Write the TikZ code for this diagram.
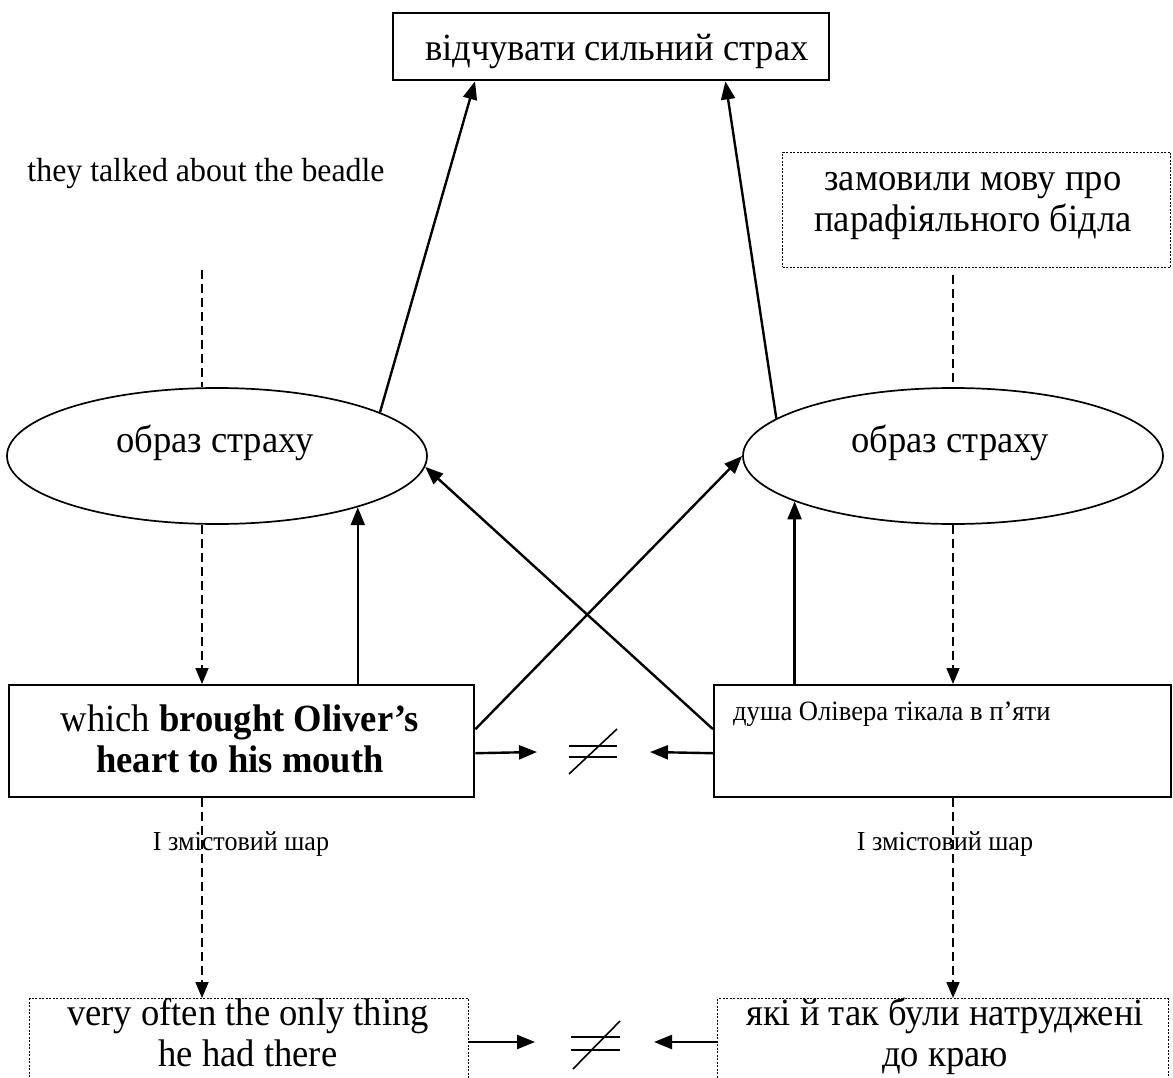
\documentclass[tikz,border=0pt]{standalone}
\usepackage{fontspec}
\setmainfont{Liberation Serif}[FakeStretch=0.95]
\usetikzlibrary{arrows.meta,shapes.geometric}
\newcommand\fbig{\fontsize{38.5}{41}\selectfont}
\newcommand\fmid{\fontsize{33.5}{38}\selectfont}
\newcommand\fsmall{\fontsize{28}{32}\selectfont}
\newcommand\flab{\fontsize{27.5}{32}\selectfont}
\begin{document}
\begin{tikzpicture}[x=1pt,y=-1pt,
  solidbox/.style={draw, line width=2.4pt, inner sep=0pt},
  dashbox/.style={draw, line width=1pt, dash pattern=on 2pt off 1.5pt, inner sep=0pt},
  oval/.style={draw, ellipse, line width=1.7pt, minimum width=420pt, minimum height=136pt, inner sep=0pt},
  txt/.style={inner sep=0pt},
  conn/.style={line width=2.4pt, -{Triangle[length=18pt,width=14pt]}},
  dconn/.style={line width=1.6pt, dash pattern=on 9pt off 5pt, -{Triangle[length=16pt,width=13pt]}},
  dline/.style={line width=1.6pt, dash pattern=on 9pt off 5pt},
  neq/.style={line width=1.6pt}]
\clip (0,0) rectangle (1173,1078);
\fill[white] (0,0) rectangle (1173,1078);

% boxes
\node[solidbox, anchor=north west, minimum width=436pt, minimum height=67pt] (top) at (392,12) {};
\node[txt, anchor=base, font=\fbig] (toptxt) at (617,61) {відчувати сильний страх};

\node[txt, anchor=base, font=\fmid] (beadle) at (206,182) {they talked about the beadle};

\node[dashbox, anchor=north west, minimum width=388pt, minimum height=115pt] (rb) at (782,152) {};
\node[txt, font=\fbig, align=center] (rbtxt) at (973,203) {замовили мову про\strut\\парафіяльного бідла\strut};

\node[oval] (e1) at (217,456) {};
\node[txt, anchor=base, font=\fbig] (e1t) at (215,452) {образ страху};
\node[oval] (e2) at (953,456) {};
\node[txt, anchor=base, font=\fbig] (e2t) at (950,452) {образ страху};

\node[solidbox, anchor=north west, minimum width=465pt, minimum height=112pt] (L) at (8,684) {};
\node[txt, font=\fbig, align=center] (Lt) at (240,744) {which \textbf{brought Oliver’s}\strut\\\textbf{heart to his mouth}\strut};

\node[solidbox, anchor=north west, minimum width=457pt, minimum height=112pt] (R) at (713,684) {};
\node[txt, anchor=base west, font=\fsmall] (Rt) at (733,720) {душа Олівера тікала в п’яти};

\node[dashbox, anchor=north west, minimum width=439pt, minimum height=120pt] (B1) at (29,998) {};
\node[txt, font=\fbig, align=center] (B1t) at (248,1038) {very often the only thing\strut\\he had there\strut};

\node[dashbox, anchor=north west, minimum width=451pt, minimum height=120pt] (B2) at (717,998) {};
\node[txt, font=\fbig, align=center] (B2t) at (945,1038) {які й так були натруджені\strut\\до краю\strut};

% connectors
\coordinate (cl) at (202,270);
\coordinate (cr) at (953,275);
\draw[dline] (cl) -- (cl |- e1.north);
\draw[dline] (cr) -- (e2.north);

\draw[conn] (e1.15) -- ([xshift=83pt]top.south west);
\draw[conn] (e2.168) -- ([xshift=-105pt]top.south east);

\draw[dconn] (e1.south -| cl) -- (L.north -| cl);
\draw[dconn] (e2.south) -- (R.north -| e2.south);

\coordinate (t1) at (e1.-20.3);
\coordinate (t2) at (e2.196.7);
\draw[conn] (L.north -| t1) -- (t1);
\draw[conn] (R.north -| t2) -- (t2);

\draw[conn] ([yshift=12pt]L.east) -- (e2.west);
\draw[conn] ([yshift=12pt]R.west) -- (e1.-3);

\coordinate (n1a) at (537,752);
\coordinate (n1b) at (650,752);
\draw[conn] ([yshift=-12pt]L.east) -- (n1a);
\draw[conn] ([yshift=-12pt]R.west) -- (n1b);
\draw[neq] (569,746) -- (617,746);
\draw[neq] (569,757) -- (617,757);
\draw[neq] (569,774) -- (617,729);

\draw[dconn] (L.south -| cl) -- (B1.north -| cl);
\draw[dconn] (R.south -| cr) -- (B2.north -| cr);
\node[txt, anchor=base, font=\flab] (lab1) at (241,850) {І змістовий шар};
\node[txt, anchor=base, font=\flab] (lab2) at (945,850) {І змістовий шар};

\coordinate (n2a) at (535,1042);
\coordinate (n2b) at (654,1042);
\draw[conn] ([yshift=-44pt]B1.north east) -- (n2a);
\draw[conn] ([yshift=-44pt]B2.north west) -- (n2b);
\draw[neq] (571,1037) -- (620,1037);
\draw[neq] (571,1050) -- (620,1050);
\draw[neq] (573,1069) -- (620,1021);
\end{tikzpicture}
\end{document}
